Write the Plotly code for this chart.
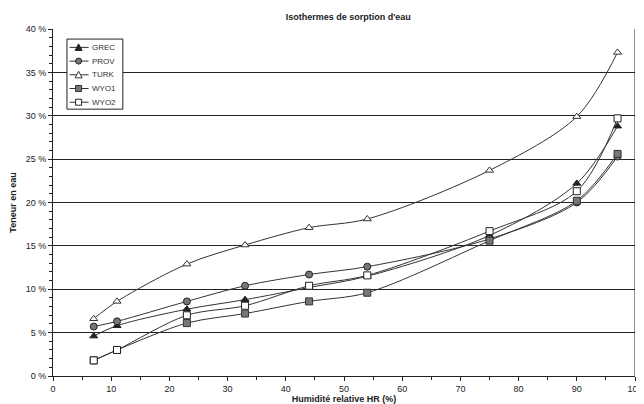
import plotly.graph_objects as go

hr = [7, 11, 23, 33, 44, 54, 75, 90, 97]
grec = [4.6, 5.8, 7.7, 8.8, 10.2, 11.5, 16.2, 22.2, 28.8]
prov = [5.7, 6.3, 8.6, 10.4, 11.7, 12.6, 15.8, 20.0, 25.3]
turk = [6.6, 8.6, 12.9, 15.1, 17.1, 18.1, 23.7, 29.9, 37.3]
wyo1 = [1.8, 3.0, 6.1, 7.2, 8.6, 9.6, 15.6, 20.2, 25.6]
wyo2 = [1.8, 3.0, 7.0, 8.1, 10.4, 11.6, 16.7, 21.3, 29.7]

series = [
    ("GREC", grec, "triangle-up", "#222222", "#222222"),
    ("PROV", prov, "circle", "#777777", "#222222"),
    ("TURK", turk, "triangle-up", "white", "#333333"),
    ("WYO1", wyo1, "square", "#777777", "#333333"),
    ("WYO2", wyo2, "square", "white", "#222222"),
]

fig = go.Figure()
for name, vals, sym, fill, edge in series:
    fig.add_trace(go.Scatter(
        x=hr, y=[v / 100 for v in vals], name=name, mode="lines+markers",
        line=dict(color="#333333", width=1, shape="spline", smoothing=0.9),
        marker=dict(symbol=sym, size=7, color=fill, line=dict(color=edge, width=1)),
        showlegend=False,
    ))

# compact legend box, drawn above the grid in plot-fraction coordinates
leg_x0, leg_x1, leg_y0, leg_y1 = 0.024, 0.120, 0.769, 0.971
row_step = 0.0395
sample_x = 0.044
fig.add_shape(type="rect", xref="paper", yref="paper", x0=leg_x0, x1=leg_x1,
              y0=leg_y0, y1=leg_y1, line=dict(color="#222222", width=1),
              fillcolor="white", layer="above")
for i, (name, vals, sym, fill, edge) in enumerate(series):
    yy = 0.947 - i * row_step
    common = dict(xref="paper", yref="paper", xsizemode="pixel", ysizemode="pixel",
                  xanchor=sample_x, yanchor=yy, layer="above")
    fig.add_shape(type="line", x0=-9, x1=10, y0=0, y1=0,
                  line=dict(color="#333333", width=1), **common)
    if sym == "circle":
        fig.add_shape(type="circle", x0=-3, x1=3, y0=-3, y1=3,
                      fillcolor=fill, line=dict(color=edge, width=1), **common)
    elif sym == "square":
        fig.add_shape(type="rect", x0=-3, x1=3, y0=-3, y1=3,
                      fillcolor=fill, line=dict(color=edge, width=1), **common)
    else:
        fig.add_shape(type="path", path="M -3.5 -3 L 3.5 -3 L 0 3.5 Z",
                      fillcolor=fill, line=dict(color=edge, width=1), **common)
    fig.add_annotation(x=0.064, y=yy, xref="paper", yref="paper", text=name,
                       showarrow=False, xanchor="left", yanchor="middle",
                       font=dict(size=8, color="#333333"))

fig.update_layout(
    width=636, height=396,
    margin=dict(l=45, r=9, t=21, b=28),
    paper_bgcolor="white", plot_bgcolor="white",
    font=dict(family="Liberation Sans, Arial, sans-serif", size=9, color="#222222"),
    title=dict(text="<b>Isothermes de sorption d'eau</b>", x=0.535, xanchor="center",
               y=0.985, yanchor="top", font=dict(size=9)),
    xaxis=dict(
        range=[0, 100], tick0=0, dtick=10, showgrid=False, automargin=False,
        showline=True, linecolor="#222222", linewidth=1, mirror=False,
        ticks="outside", ticklen=4, tickcolor="#222222",
        minor=dict(dtick=5, ticks="outside", ticklen=3, tickcolor="#222222"),
        title=dict(text="<b>Humidité relative HR (%)</b>", standoff=2, font=dict(size=9)),
        zeroline=False,
    ),
    yaxis=dict(
        range=[0, 0.4], showgrid=True, gridcolor="#222222", gridwidth=1,
        showline=True, linecolor="#222222", linewidth=1, automargin=False,
        ticks="outside", ticklen=4, tickcolor="#222222",
        tickvals=[i / 100 for i in range(0, 41, 5)],
        ticktext=[f"{i} %" for i in range(0, 41, 5)],
        minor=dict(dtick=0.01, tick0=0, ticks="outside", ticklen=3, tickcolor="#222222"),
        title=dict(text="<b>Teneur en eau</b>", standoff=14, font=dict(size=9)),
        zeroline=False,
    ),
    showlegend=False,
)
fig.add_shape(type="line", xref="x", yref="y", x0=100, x1=100, y0=0, y1=0.4,
              line=dict(color="#222222", width=1))

fig.write_html("out.html")
